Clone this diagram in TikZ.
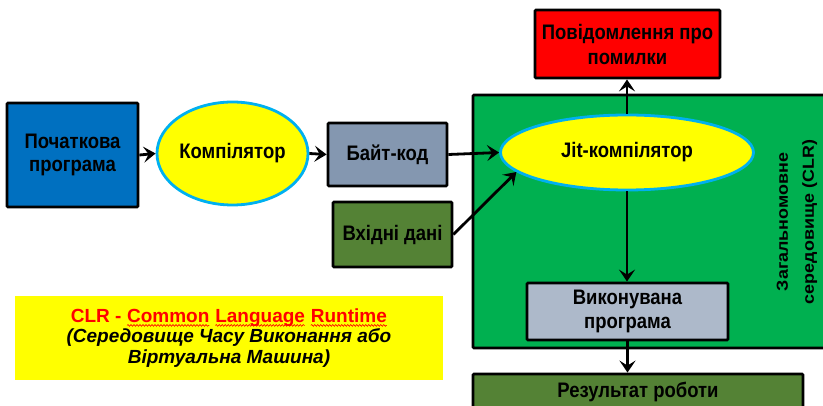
\documentclass[tikz,border=0pt]{standalone}
\usepackage{fontspec}
\setmainfont{Liberation Sans}
\newfontfamily\tallfont{Liberation Sans}[FakeStretch=0.88]
\newfontfamily\rotfont{Liberation Sans}[FakeStretch=1.12]
\usetikzlibrary{shapes.geometric,arrows.meta,decorations.pathmorphing}
\definecolor{cblue}{HTML}{0070C0}
\definecolor{cbyte}{HTML}{8497B0}
\definecolor{cdkgreen}{HTML}{548235}
\definecolor{cgreen}{HTML}{00B050}
\definecolor{cred}{HTML}{FF0000}
\definecolor{cexe}{HTML}{ADB9CA}
\definecolor{cyel}{HTML}{FFFF00}
\definecolor{ccyan}{HTML}{00B0F0}
\tikzset{
  every node/.style={font=\tallfont\fontsize{21}{23.5}\selectfont\bfseries, align=center, inner sep=0pt},
  box/.style={draw=black, line width=2.8pt, rectangle, rounded corners=1pt},
  oval/.style={draw=ccyan, fill=cyel, line width=2.8pt, ellipse},
  conn/.style={line width=2.8pt, -{Stealth[length=12pt,width=16pt,inset=5pt]}},
  wave/.style={draw=cred, fill=none, line width=0.6pt, decorate, decoration={snake, amplitude=0.9pt, segment length=3pt}},
}
\newcommand\wavyw[1]{\tikz[baseline=(w.base), every node/.style={}]{%
  \node[inner sep=0pt, outer sep=0pt, minimum width=0pt, minimum height=0pt, fill=none, draw=none, text=cred, font={}](w){#1};
  \draw[wave] ([yshift=-3pt]w.base west) -- ([yshift=-3pt]w.base east);}}
\begin{document}
\begin{tikzpicture}[x=1pt,y=-1pt]
\useasboundingbox (0,0) rectangle (823,406);
\clip (0,0) rectangle (823,406);
% CLR container
\node[box, fill=cgreen, minimum width=367pt, minimum height=253pt] (clr) at (656.5,221.5) {};
\node[rotate=90, font=\rotfont\fontsize{16}{26}\selectfont\bfseries] (clrlabel) at (797,222) {Загальномовне\\середовище (CLR)};
% nodes
\node[box, fill=cblue, minimum width=131pt, minimum height=104pt] (poch) at (72.5,155) {Початкова\\програма};
\node[oval, minimum width=151pt, minimum height=103pt] (komp) at (232.5,153.5) {Компілятор};
\node[box, fill=cbyte, minimum width=119pt, minimum height=63pt] (bk) at (387.5,154.5) {Байт-код};
\node[box, fill=cdkgreen, minimum width=119pt, minimum height=65pt] (vhid) at (392.5,234.5) {Вхідні дані};
\node[oval, minimum width=253pt, minimum height=75pt] (jit) at (627,152.5) {Jit-компілятор};
\node[box, fill=cred, minimum width=185pt, minimum height=68pt, font=\tallfont\fontsize{21}{25}\selectfont\bfseries] (err) at (627.5,44) {Повідомлення про\\помилки};
\node[box, fill=cexe, minimum width=201pt, minimum height=57pt] (vyk) at (627.5,311.5) {Виконувана\\програма};
\node[box, fill=cdkgreen, minimum width=330pt, minimum height=36pt] (res) at (638,392) {Результат роботи};
% note
\node[fill=cyel, minimum width=428pt, minimum height=84pt, font=\fontsize{19}{20.5}\selectfont\bfseries] (note) at (229,338)
  {\textcolor{cred}{CLR - \wavyw{Common} \wavyw{Language} \wavyw{Runtime}}\\
   \itshape (Середовище Часу Виконання або\\ \itshape Віртуальна Машина)};
% connectors
\draw[conn] (poch.east) -- (komp.west);
\draw[conn] (komp.east) -- (bk.west);
\draw[conn] (bk.east) -- (jit.west);
\draw[conn] (vhid.east) -- (jit.190);
\draw[conn] (jit.north) -- (jit.north |- err.south);
\draw[conn] (jit.south) -- (jit.south |- vyk.north);
\draw[conn] (vyk.south) -- (vyk.south |- res.north);
\end{tikzpicture}
\end{document}
